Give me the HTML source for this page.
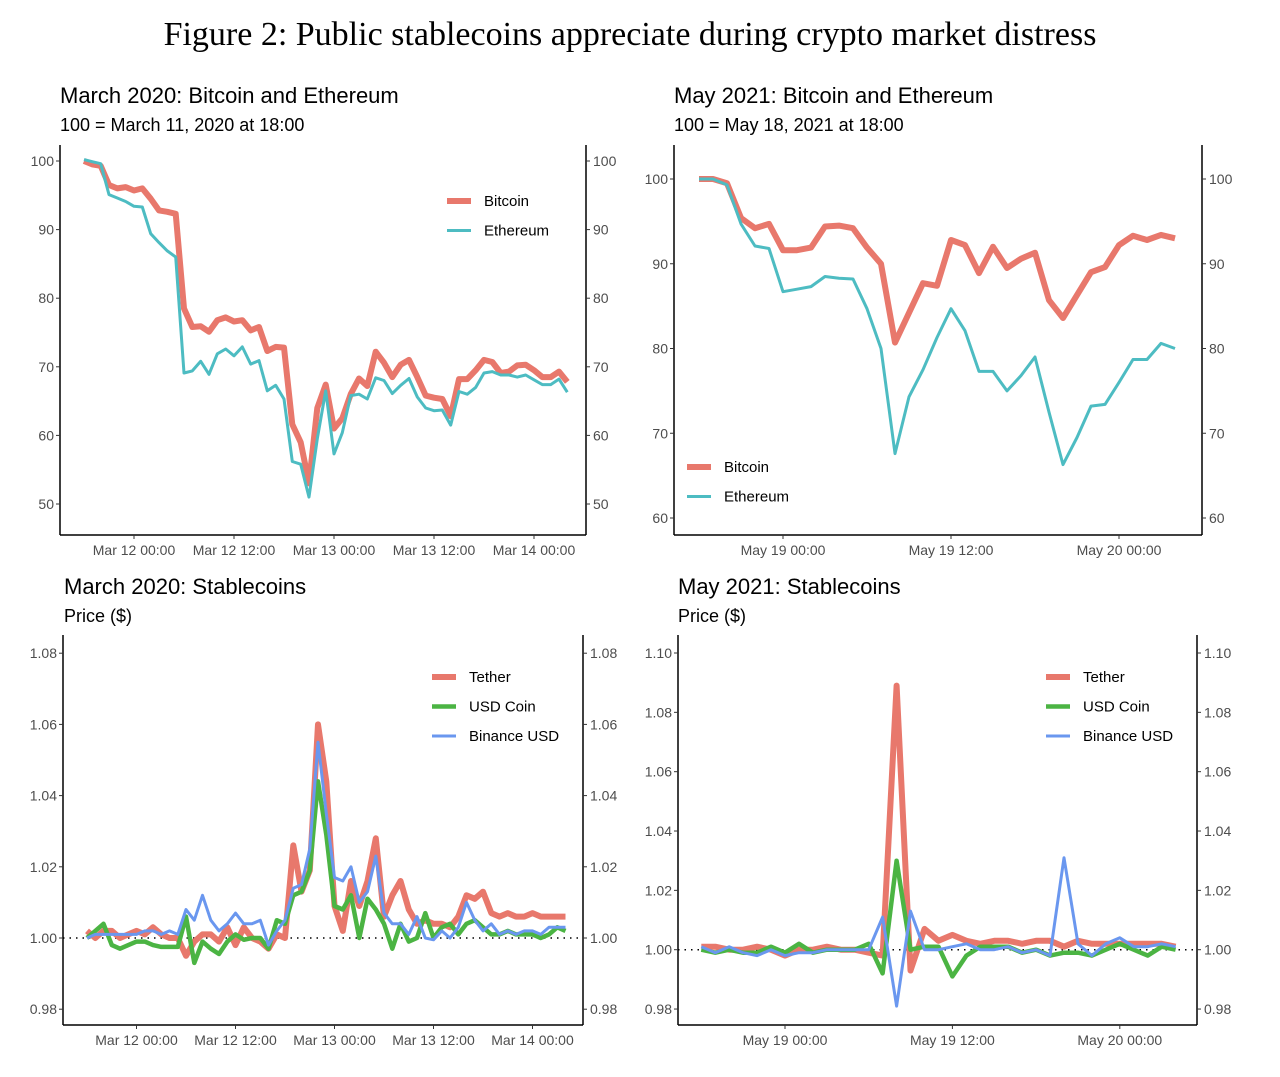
<!DOCTYPE html>
<html><head><meta charset="utf-8"><style>
html,body{margin:0;padding:0;background:#fff;}
svg{display:block;}
text{font-family:"Liberation Sans",sans-serif;}
.t{font-size:14px;fill:#4d4d4d;}
.h{font-size:22px;fill:#000;}
.s{font-size:18px;fill:#000;}
.l{font-size:15px;fill:#000;}
</style></head><body>
<svg id="c" width="1280" height="1077" xmlns="http://www.w3.org/2000/svg">
<text x="630" y="45" text-anchor="middle" style="font-family:'Liberation Serif',serif;font-size:34px;fill:#000">Figure 2: Public stablecoins appreciate during crypto market distress</text>
<text class="h" x="60" y="103">March 2020: Bitcoin and Ethereum</text>
<text class="s" x="60" y="131">100 = March 11, 2020 at 18:00</text>
<text class="h" x="674" y="103">May 2021: Bitcoin and Ethereum</text>
<text class="s" x="674" y="131">100 = May 18, 2021 at 18:00</text>
<text class="h" x="64" y="594">March 2020: Stablecoins</text>
<text class="s" x="64" y="622">Price ($)</text>
<text class="h" x="678" y="594">May 2021: Stablecoins</text>
<text class="s" x="678" y="622">Price ($)</text>
<g id="g"></g>
</svg>
<script>
var NS="http://www.w3.org/2000/svg",G=document.getElementById("g");
function el(t,a,txt){var e=document.createElementNS(NS,t);for(var k in a)e.setAttribute(k,a[k]);if(txt!=null)e.textContent=txt;G.appendChild(e);return e;}
function panel(p){
 var yv=function(v){return p.y0+(v-p.v0)*p.k;};
 var xv=function(h){return p.x0+h*p.ph;};
 if(p.dot) el("line",{x1:p.L,x2:p.R,y1:yv(1),y2:yv(1),stroke:"#000","stroke-width":1.5,"stroke-dasharray":"1.5 5"});
 p.series.forEach(function(s){
  var pts=s.d.map(function(v,i){return xv(i-6).toFixed(1)+","+yv(v).toFixed(1);}).join(" ");
  el("polyline",{points:pts,fill:"none",stroke:s.c,"stroke-width":s.w,"stroke-linejoin":"round"});
 });
 el("line",{x1:p.L,x2:p.L,y1:p.T,y2:p.B,stroke:"#000","stroke-width":1.5});
 el("line",{x1:p.R,x2:p.R,y1:p.T,y2:p.B,stroke:"#000","stroke-width":1.5});
 el("line",{x1:p.L,x2:p.R,y1:p.B,y2:p.B,stroke:"#000","stroke-width":1.5});
 p.yt.forEach(function(v){var y=yv(v);
  el("line",{x1:p.L-4,x2:p.L,y1:y,y2:y,stroke:"#333"});
  el("line",{x1:p.R,x2:p.R+4,y1:y,y2:y,stroke:"#333"});
  el("text",{"class":"t",x:p.L-6,y:y+5,"text-anchor":"end"},p.fmt(v));
  el("text",{"class":"t",x:p.R+7,y:y+5},p.fmt(v));
 });
 p.xt.forEach(function(t){var x=xv(t[0]);
  el("line",{x1:x,x2:x,y1:p.B,y2:p.B+4,stroke:"#333"});
  el("text",{"class":"t",x:x,y:p.B+20,"text-anchor":"middle"},t[1]);
 });
 p.series.forEach(function(s,i){var y=p.lg[1]+i*29.5;
  el("line",{x1:p.lg[0],x2:p.lg[0]+24,y1:y,y2:y,stroke:s.c,"stroke-width":s.w});
  el("text",{"class":"l",x:p.lg[0]+37,y:y+5},s.n);
 });
}
var RED="#e8786c",TEAL="#4dbcc2",GRN="#4bb443",BLU="#6a97ef";
panel({L:60,R:586,T:145,B:535,x0:134,ph:100/12,v0:100,y0:161,k:-6.86,
 yt:[100,90,80,70,60,50],fmt:function(v){return v;},
 xt:[[0,"Mar 12 00:00"],[12,"Mar 12 12:00"],[24,"Mar 13 00:00"],[36,"Mar 13 12:00"],[48,"Mar 14 00:00"]],
 lg:[447,201],
 series:[{n:"Bitcoin",c:RED,w:6,d:[100,99.5,99.3,96.5,96,96.2,95.7,96,94.5,92.8,92.6,92.3,78.5,75.8,75.9,75.1,76.8,77.2,76.6,76.8,75.3,75.8,72.3,72.9,72.8,61.6,59,53,64,67.4,61,62.5,66,68.3,67.2,72.2,70.6,68.5,70.3,71,68.5,65.8,65.5,65.3,62.8,68.2,68.2,69.5,71,70.7,69.1,69.3,70.2,70.3,69.5,68.5,68.5,69.3,67.8]},
  {n:"Ethereum",c:TEAL,w:3,d:[100.2,99.9,99.6,95.1,94.6,94.1,93.4,93.3,89.4,88.1,86.9,86,69.1,69.4,70.8,68.9,71.9,72.6,71.6,72.9,70.4,70.9,66.5,67.3,65.3,56.2,55.8,51,59.5,66.5,57.3,60.4,65.8,66,65.3,68.4,68,66.1,67.3,68.3,65.6,64,63.6,63.7,61.5,66.4,66,67,69.1,69.3,68.8,68.8,68.5,68.8,68.1,67.4,67.4,68.2,66.3]}]});
panel({L:674,R:1202,T:145,B:535,x0:783,ph:14,v0:100,y0:179,k:-8.475,
 yt:[100,90,80,70,60],fmt:function(v){return v;},
 xt:[[0,"May 19 00:00"],[12,"May 19 12:00"],[24,"May 20 00:00"]],
 lg:[687,467],
 series:[{n:"Bitcoin",c:RED,w:6,d:[100,100,99.5,95.4,94.2,94.7,91.6,91.6,91.9,94.4,94.5,94.2,91.9,90,80.7,84.2,87.7,87.4,92.8,92.2,88.9,92,89.5,90.6,91.3,85.7,83.6,86.3,89,89.6,92.2,93.3,92.8,93.4,93]},
  {n:"Ethereum",c:TEAL,w:3,d:[100,100,99.3,94.7,92.1,91.8,86.7,87,87.3,88.5,88.3,88.2,84.7,80,67.6,74.3,77.5,81.3,84.7,82.1,77.3,77.3,75,76.8,79,72.5,66.3,69.5,73.2,73.4,76,78.7,78.7,80.6,80]}]});
panel({L:63,R:583,T:635,B:1025,x0:136.5,ph:99/12,v0:1,y0:938,k:-3560,dot:1,
 yt:[1.08,1.06,1.04,1.02,1.00,0.98],fmt:function(v){return v.toFixed(2);},
 xt:[[0,"Mar 12 00:00"],[12,"Mar 12 12:00"],[24,"Mar 13 00:00"],[36,"Mar 13 12:00"],[48,"Mar 14 00:00"]],
 lg:[432,677],
 series:[{n:"Tether",c:RED,w:6,d:[1.002,1.000,1.002,1.002,1.000,1.001,1.002,1.001,1.003,1.001,1.000,1.000,0.995,0.999,1.001,1.001,0.999,1.003,0.998,1.003,1.000,0.999,0.997,1.001,1.000,1.026,1.013,1.019,1.060,1.044,1.009,1.002,1.016,1.009,1.016,1.028,1.006,1.012,1.016,1.008,1.004,1.005,1.004,1.004,1.003,1.006,1.012,1.011,1.013,1.007,1.006,1.007,1.006,1.006,1.007,1.006,1.006,1.006,1.006]},
  {n:"USD Coin",c:GRN,w:4.5,d:[1.000,1.002,1.004,0.998,0.997,0.998,0.999,0.999,0.998,0.9975,0.9975,0.9975,1.006,0.993,0.999,0.997,0.9955,0.999,1.001,0.9995,1.000,1.000,0.997,1.005,1.004,1.012,1.013,1.019,1.044,1.029,1.009,1.008,1.012,1.000,1.011,1.008,1.004,0.997,1.004,0.999,1.000,1.007,1.000,1.003,1.004,1.001,1.004,1.005,1.003,1.001,1.001,1.002,1.001,1.001,1.001,1.000,1.001,1.003,1.002]},
  {n:"Binance USD",c:BLU,w:3,d:[1.000,1.001,1.001,1.001,1.001,1.001,1.001,1.002,1.002,1.001,1.002,1.001,1.008,1.005,1.012,1.005,1.002,1.004,1.007,1.004,1.004,1.005,0.998,1.002,1.005,1.014,1.015,1.025,1.055,1.035,1.017,1.016,1.020,1.010,1.013,1.023,1.007,1.004,1.004,1.001,1.006,1.000,0.9995,1.002,1.000,1.003,1.010,1.005,1.002,1.004,1.001,1.002,1.001,1.002,1.002,1.001,1.003,1.003,1.003]}]});
panel({L:678,R:1197,T:635,B:1025,x0:785,ph:13.95,v0:1,y0:949.7,k:-2967,dot:1,
 yt:[1.10,1.08,1.06,1.04,1.02,1.00,0.98],fmt:function(v){return v.toFixed(2);},
 xt:[[0,"May 19 00:00"],[12,"May 19 12:00"],[24,"May 20 00:00"]],
 lg:[1046,677],
 series:[{n:"Tether",c:RED,w:6,d:[1.001,1.001,1.000,1.000,1.001,1.000,0.998,1.000,1.000,1.001,1.000,1.000,0.999,0.998,1.089,0.993,1.007,1.003,1.005,1.003,1.002,1.003,1.003,1.002,1.003,1.003,1.001,1.003,1.002,1.002,1.002,1.002,1.002,1.002,1.001]},
  {n:"USD Coin",c:GRN,w:4.5,d:[1.000,0.999,1.000,0.999,0.999,1.001,0.999,1.002,0.999,1.000,1.000,1.000,1.002,0.992,1.030,1.000,1.001,1.001,0.991,0.998,1.001,1.001,1.001,0.999,1.000,0.998,0.999,0.999,0.998,1.000,1.002,1.000,0.998,1.001,1.000]},
  {n:"Binance USD",c:BLU,w:3,d:[1.001,0.999,1.001,0.999,0.998,1.000,0.998,0.999,0.999,1.000,1.000,1.000,1.000,1.011,0.981,1.013,1.000,1.000,1.001,1.002,1.000,1.000,1.001,0.999,1.000,0.998,1.031,1.002,0.998,1.002,1.004,1.001,1.001,1.002,1.001]}]});
</script>
</body></html>
